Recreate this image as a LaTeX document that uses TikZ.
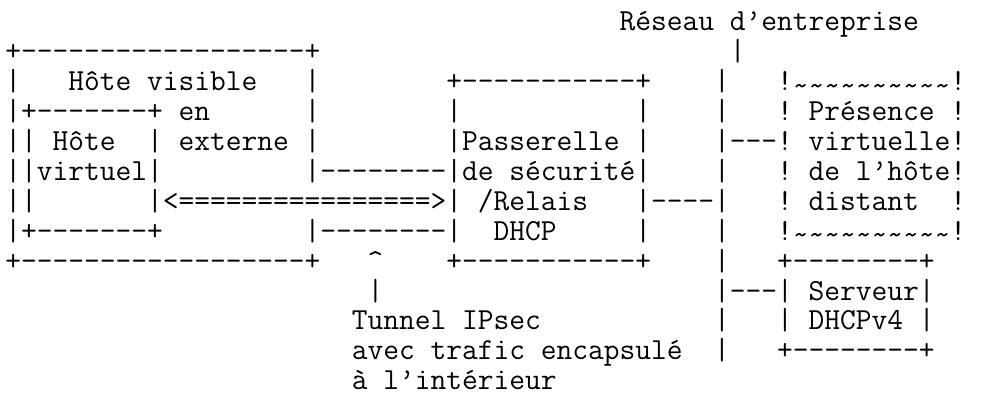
\documentclass[tikz,border=0pt]{standalone}
\usepackage{fontspec}
\setmonofont{Latin Modern Mono}
\usetikzlibrary{positioning}

% blank columns and the wave sign of the ASCII drawing
\newcommand{\pad}[1]{\hspace*{#1\fontcharwd\font`x}}
\newcommand{\wav}{\smash{\raisebox{-0.15em}{\textasciitilde}}}

\begin{document}
\begin{tikzpicture}[
    x=0.5pt, y=-0.5pt,
    % Styles
    ascii_line/.style={
        anchor=base west,
        inner sep=0pt,
        font=\ttfamily\fontsize{15.29}{18}\selectfont\frenchspacing
    }
]
    \useasboundingbox (0,0) rectangle (983,394);

    % --- Title ---
    \node[ascii_line] (l1) at (5, 31.0) {\pad{39}Réseau d’entreprise};

    % --- Boxes and links ---
    \node[ascii_line] (l2) at (5, 60.9) {+------------------+\pad{26}|};
    \node[ascii_line] (l3) at (5, 90.8) {|\pad{3}Hôte visible\pad{3}|\pad{8}+-----------+\pad{4}|\pad{3}!\wav\wav\wav\wav\wav\wav\wav\wav\wav\wav!};
    \node[ascii_line] (l4) at (5, 120.7) {|+-------+ en\pad{6}|\pad{8}|\pad{11}|\pad{4}|\pad{3}! Présence !};
    \node[ascii_line] (l5) at (5, 150.6) {|| Hôte\pad{2}| externe |\pad{8}|Passerelle |\pad{4}|---! virtuelle!};
    \node[ascii_line] (l6) at (5, 180.5) {||virtuel|\pad{9}|--------|de sécurité|\pad{4}|\pad{3}! de l’hôte!};
    \node[ascii_line] (l7) at (5, 210.4) {||\pad{7}|<================>| /Relais\pad{3}|----|\pad{3}! distant\pad{2}!};
    \node[ascii_line] (l8) at (5, 240.3) {|+-------+\pad{9}|--------|\pad{2}DHCP\pad{5}|\pad{4}|\pad{3}!\wav\wav\wav\wav\wav\wav\wav\wav\wav\wav!};
    \node[ascii_line] (l9) at (5, 270.2) {+------------------+\pad{3}\textasciicircum\pad{4}+-----------+\pad{4}|\pad{3}+--------+};
    \node[ascii_line] (l10) at (5, 300.1) {\pad{23}|\pad{21}|---| Serveur|};

    % --- Tunnel note ---
    \node[ascii_line] (l11) at (5, 330.0) {\pad{22}Tunnel IPsec\pad{11}|\pad{3}| DHCPv4 |};
    \node[ascii_line] (l12) at (5, 359.9) {\pad{22}avec trafic encapsulé\pad{2}|\pad{3}+--------+};
    \node[ascii_line] (l13) at (5, 389.8) {\pad{22}à l’intérieur};

\end{tikzpicture}
\end{document}
